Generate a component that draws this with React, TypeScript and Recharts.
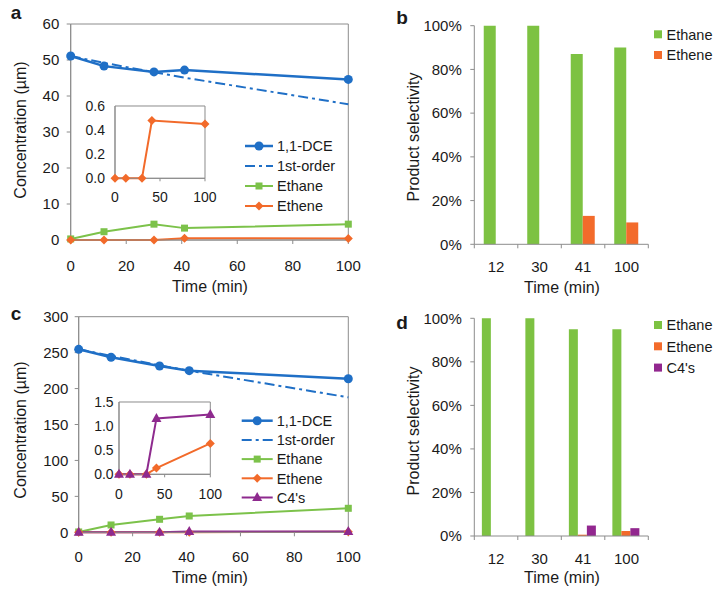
import React from 'react';
import { LineChart, Line, BarChart, Bar, XAxis, YAxis, ReferenceArea } from 'recharts';

const FONT = '"Liberation Sans", Arial, Helvetica, sans-serif';
const AXIS = '#8c8c8c';
const TEXT = '#1a1a1a';
const BLUE = '#1f6fc6';
const GREEN = '#7cc24a';
const ORANGE = '#f26a2a';
const PURPLE = '#8e2a8e';

// sampling times (min), panels a and c
const times = [0, 12, 30, 41, 100];

// panel a: 50 µM 1,1-DCE
const dceA = [51.1, 48.3, 46.7, 47.2, 44.6];
const firstOrderA = [51.1, 49.2, 46.6, 45.1, 37.7];
const ethaneA = [0.3, 2.3, 4.4, 3.3, 4.4];
const etheneA = [0, 0, 0, 0.48, 0.45];

// panel c: 250 µM 1,1-DCE
const dceC = [254.6, 243.5, 231.4, 224.9, 213.7];
const firstOrderC = [254.6, 245.5, 232.4, 224.8, 187.8];
const ethaneC = [0.5, 10.2, 18.1, 22.7, 33.4];
const etheneC = [0, 0, 0, 0.13, 0.64];
const c4C = [0, 0, 0, 1.16, 1.24];

// panels b and d: product selectivity (%)
const categories = ['12', '30', '41', '100'];
const ethaneSelB = [100, 100, 87, 90];
const etheneSelB = [0, 0, 13, 10];
const ethaneSelD = [100, 100, 95, 95];
const etheneSelD = [0, 0, 0.6, 2.3];
const c4SelD = [0, 0, 4.8, 3.6];

// axis ticks
const timeTicks = [0, 20, 40, 60, 80, 100];
const insetTimeTicks = [0, 50, 100];
const concTicksA = [0, 10, 20, 30, 40, 50, 60];
const concTicksC = [0, 50, 100, 150, 200, 250, 300];
const insetTicksA = [0, 0.2, 0.4, 0.6];
const insetTicksC = [0, 0.5, 1, 1.5];
const pctTicks = [0, 20, 40, 60, 80, 100];

type Marker = 'circle' | 'square' | 'diamond' | 'triangle';
type LineSeries = { key: string; name: string; color: string; width: number; marker?: Marker; dash?: string };
type BarSeries = { key: string; name: string; color: string };

const lineSeriesA: LineSeries[] = [
  { key: 'dce', name: '1,1-DCE', color: BLUE, width: 2.5, marker: 'circle' },
  { key: 'first', name: '1st-order', color: BLUE, width: 2, dash: '10 4 3 4' },
  { key: 'ethane', name: 'Ethane', color: GREEN, width: 2, marker: 'square' },
  { key: 'ethene', name: 'Ethene', color: ORANGE, width: 2, marker: 'diamond' },
];
const lineSeriesC: LineSeries[] = [...lineSeriesA, { key: 'c4', name: "C4's", color: PURPLE, width: 2, marker: 'triangle' }];

const barSeriesB: BarSeries[] = [
  { key: 'ethane', name: 'Ethane', color: '#7dc242' },
  { key: 'ethene', name: 'Ethene', color: '#f36b2b' },
];
const barSeriesD: BarSeries[] = [...barSeriesB, { key: 'c4', name: "C4's", color: '#92278f' }];

const rowsA = times.map((t, i) => ({ t, dce: dceA[i], first: firstOrderA[i], ethane: ethaneA[i], ethene: etheneA[i] }));
const rowsC = times.map((t, i) => ({
  t, dce: dceC[i], first: firstOrderC[i], ethane: ethaneC[i], ethene: etheneC[i], c4: c4C[i],
}));
const rowsB = categories.map((t, i) => ({ t, ethane: ethaneSelB[i], ethene: etheneSelB[i] }));
const rowsD = categories.map((t, i) => ({ t, ethane: ethaneSelD[i], ethene: etheneSelD[i], c4: c4SelD[i] }));

function drawMarker(m: Marker, color: string, cx: number, cy: number, key?: string) {
  switch (m) {
    case 'circle':
      return <circle key={key} cx={cx} cy={cy} r={4.5} fill={color} />;
    case 'square':
      return <rect key={key} x={cx - 3.5} y={cy - 3.5} width={7} height={7} fill={color} />;
    case 'diamond':
      return <path key={key} d={`M${cx} ${cy - 4.5}L${cx + 4.5} ${cy}L${cx} ${cy + 4.5}L${cx - 4.5} ${cy}Z`} fill={color} />;
    default:
      return <path key={key} d={`M${cx} ${cy - 5.5}L${cx + 5} ${cy + 3.5}L${cx - 5} ${cy + 3.5}Z`} fill={color} />;
  }
}

const dotFor = (s: LineSeries) => (p: any) =>
  p.cx == null || p.cy == null ? <g key={`${s.key}-${p.index}`} /> : drawMarker(s.marker as Marker, s.color, p.cx, p.cy, `${s.key}-${p.index}`);

type LinePanelProps = {
  left: number; top: number; width: number; height: number;
  margin: { top: number; right: number; left: number; bottom: number };
  yWidth: number; xHeight: number;
  data: any[]; series: LineSeries[];
  yTicks: number[]; xTicks: number[];
  fontSize: number; xTickSize: number; yTickSize: number;
  xTickMargin: number; yTickMargin: number;
  yFmt?: (v: number) => string;
};

function LinePanel(p: LinePanelProps) {
  const yMax = p.yTicks[p.yTicks.length - 1];
  const xMax = p.xTicks[p.xTicks.length - 1];
  const tick = { fontSize: p.fontSize, fill: TEXT };
  return (
    <div style={{ position: 'absolute', left: p.left, top: p.top }}>
      <LineChart width={p.width} height={p.height} data={p.data} margin={p.margin}>
        <XAxis
          dataKey="t" type="number" domain={[0, xMax]} ticks={p.xTicks} interval={0}
          height={p.xHeight} stroke={AXIS} tickSize={p.xTickSize} tickLine={p.xTickSize > 0}
          tickMargin={p.xTickMargin} tick={tick}
        />
        <YAxis
          type="number" domain={[0, yMax]} ticks={p.yTicks} interval={0} width={p.yWidth}
          stroke={AXIS} tickSize={p.yTickSize} tickLine={p.yTickSize > 0}
          tickMargin={p.yTickMargin} tick={tick} tickFormatter={p.yFmt}
        />
        <ReferenceArea x1={0} x2={xMax} y1={0} y2={yMax} fill="none" stroke={AXIS} strokeWidth={1} />
        {p.series.map((s) => (
          <Line
            key={s.key} type="linear" dataKey={s.key} stroke={s.color} strokeWidth={s.width}
            strokeDasharray={s.dash} dot={s.marker ? dotFor(s) : false} activeDot={false}
            isAnimationActive={false}
          />
        ))}
      </LineChart>
    </div>
  );
}

const boundaryTick = (margin: number) => (p: any) => {
  const half = typeof p.payload?.offset === 'number' && p.payload.offset > 0 ? p.payload.offset : 21.75;
  const axisY = p.y - margin;
  const last = p.index === p.visibleTicksCount - 1;
  return (
    <g>
      <line x1={p.x - half} x2={p.x - half} y1={axisY} y2={axisY + 4} stroke={AXIS} />
      {last && <line x1={p.x + half} x2={p.x + half} y1={axisY} y2={axisY + 4} stroke={AXIS} />}
      <text x={p.x} y={p.y} dy="0.71em" textAnchor="middle" fontSize={15} fill={TEXT}>
        {p.payload.value}
      </text>
    </g>
  );
};

type BarPanelProps = {
  left: number; top: number; width: number; height: number;
  margin: { top: number; right: number; left: number; bottom: number };
  yWidth: number; xHeight: number; data: any[]; series: BarSeries[];
  gap: string; xTickMargin: number;
};

function BarPanel(p: BarPanelProps) {
  return (
    <div style={{ position: 'absolute', left: p.left, top: p.top }}>
      <BarChart width={p.width} height={p.height} data={p.data} margin={p.margin} barCategoryGap={p.gap} barGap={0}>
        <XAxis
          dataKey="t" height={p.xHeight} stroke={AXIS} tickLine={false} tickSize={0}
          tickMargin={p.xTickMargin} interval={0} tick={boundaryTick(p.xTickMargin)}
        />
        <YAxis
          domain={[0, 100]} ticks={pctTicks} interval={0} width={p.yWidth} stroke={AXIS}
          tickSize={4} tickMargin={8.5} tick={{ fontSize: 15, fill: TEXT }}
          tickFormatter={(v: number) => `${v}%`}
        />
        {p.series.map((s) => (
          <Bar key={s.key} dataKey={s.key} fill={s.color} isAnimationActive={false} />
        ))}
      </BarChart>
    </div>
  );
}

function LineLegend({ x, y, gap, len, series }: { x: number; y: number; gap: number; len: number; series: LineSeries[] }) {
  return (
    <g>
      {series.map((s, i) => {
        const cy = y + i * gap;
        return (
          <g key={s.key}>
            <line x1={x} x2={x + len} y1={cy} y2={cy} stroke={s.color} strokeWidth={s.width} strokeDasharray={s.dash} />
            {s.marker && drawMarker(s.marker, s.color, x + len / 2, cy)}
            <text x={x + len + 4} y={cy} dy="0.36em" fontSize={14.5} fill={TEXT}>{s.name}</text>
          </g>
        );
      })}
    </g>
  );
}

function BarLegend({ x, y, gap, series }: { x: number; y: number; gap: number; series: BarSeries[] }) {
  return (
    <g>
      {series.map((s, i) => {
        const cy = y + i * gap;
        return (
          <g key={s.key}>
            <rect x={x} y={cy - 4} width={8} height={8} fill={s.color} />
            <text x={x + 12.5} y={cy} dy="0.36em" fontSize={14.5} fill={TEXT}>{s.name}</text>
          </g>
        );
      })}
    </g>
  );
}

function YTitle({ x, y, text }: { x: number; y: number; text: string }) {
  return (
    <text transform={`translate(${x},${y}) rotate(-90)`} textAnchor="middle" dy="0.36em" fontSize={16} fill={TEXT}>
      {text}
    </text>
  );
}

function XTitle({ x, y, text }: { x: number; y: number; text: string }) {
  return (
    <text x={x} y={y} textAnchor="middle" dy="0.36em" fontSize={16} fill={TEXT}>
      {text}
    </text>
  );
}

const fmt1 = (v: number) => v.toFixed(1);

export default function App() {
  return (
    <div style={{ position: 'absolute', left: 0, top: 0, width: 722, height: 597, background: '#fff', fontFamily: FONT }}>
      {/* a */}
      <LinePanel
        left={0} top={0} width={370} height={300}
        margin={{ top: 24, right: 21.7, left: 0, bottom: 0 }} yWidth={70.7} xHeight={60}
        data={rowsA} series={lineSeriesA} yTicks={concTicksA} xTicks={timeTicks}
        fontSize={15} xTickSize={4} yTickSize={4} xTickMargin={16} yTickMargin={7.4}
      />
      <LinePanel
        left={75} top={92} width={155} height={116.3}
        margin={{ top: 14, right: 25, left: 0, bottom: 0 }} yWidth={40} xHeight={30}
        data={rowsA} series={lineSeriesA.filter((s) => s.key === 'ethene')}
        yTicks={insetTicksA} xTicks={insetTimeTicks} yFmt={fmt1}
        fontSize={14} xTickSize={3} yTickSize={0} xTickMargin={10.7} yTickMargin={10}
      />
      {/* b */}
      <BarPanel
        left={370} top={0} width={352} height={300}
        margin={{ top: 25.7, right: 73.7, left: 0, bottom: 0 }} yWidth={104.3} xHeight={55.7}
        data={rowsB} series={barSeriesB} gap="21.7%" xTickMargin={17}
      />
      {/* c */}
      <LinePanel
        left={0} top={300} width={370} height={297}
        margin={{ top: 16.7, right: 21.7, left: 0, bottom: 0 }} yWidth={78.7} xHeight={64.7}
        data={rowsC} series={lineSeriesC} yTicks={concTicksC} xTicks={timeTicks}
        fontSize={15} xTickSize={4} yTickSize={4} xTickMargin={15} yTickMargin={6.4}
      />
      <LinePanel
        left={78.7} top={387.7} width={156.3} height={116.3}
        margin={{ top: 14, right: 25, left: 0, bottom: 0 }} yWidth={40} xHeight={30}
        data={rowsC} series={lineSeriesC.filter((s) => s.key === 'ethene' || s.key === 'c4')}
        yTicks={insetTicksC} xTicks={insetTimeTicks} yFmt={fmt1}
        fontSize={14} xTickSize={3} yTickSize={0} xTickMargin={11.3} yTickMargin={5.4}
      />
      {/* d */}
      <BarPanel
        left={370} top={300} width={352} height={297}
        margin={{ top: 18.3, right: 73.7, left: 0, bottom: 0 }} yWidth={104.3} xHeight={61}
        data={rowsD} series={barSeriesD} gap="17.4%" xTickMargin={17.7}
      />

      <svg width={722} height={597} style={{ position: 'absolute', left: 0, top: 0, pointerEvents: 'none' }} fontFamily={FONT}>
        <text x={16} y={19} textAnchor="middle" fontSize={19} fontWeight="bold" fill={TEXT}>a</text>
        <text x={402} y={24} textAnchor="middle" fontSize={19} fontWeight="bold" fill={TEXT}>b</text>
        <text x={16} y={320} textAnchor="middle" fontSize={19} fontWeight="bold" fill={TEXT}>c</text>
        <text x={402} y={329} textAnchor="middle" fontSize={19} fontWeight="bold" fill={TEXT}>d</text>

        <YTitle x={20} y={130} text="Concentration (µm)" />
        <XTitle x={210} y={286} text="Time (min)" />
        <YTitle x={413} y={137} text="Product selectivity" />
        <XTitle x={562} y={287} text="Time (min)" />
        <YTitle x={20} y={430} text="Concentration (µm)" />
        <XTitle x={210} y={577} text="Time (min)" />
        <YTitle x={413} y={431} text="Product selectivity" />
        <XTitle x={562} y={577} text="Time (min)" />

        <LineLegend x={245} y={146} gap={20} len={28} series={lineSeriesA} />
        <LineLegend x={241.7} y={420.7} gap={19.2} len={31} series={lineSeriesC} />
        <BarLegend x={654} y={34.3} gap={20.7} series={barSeriesB} />
        <BarLegend x={654} y={325} gap={21.3} series={barSeriesD} />
      </svg>
    </div>
  );
}
